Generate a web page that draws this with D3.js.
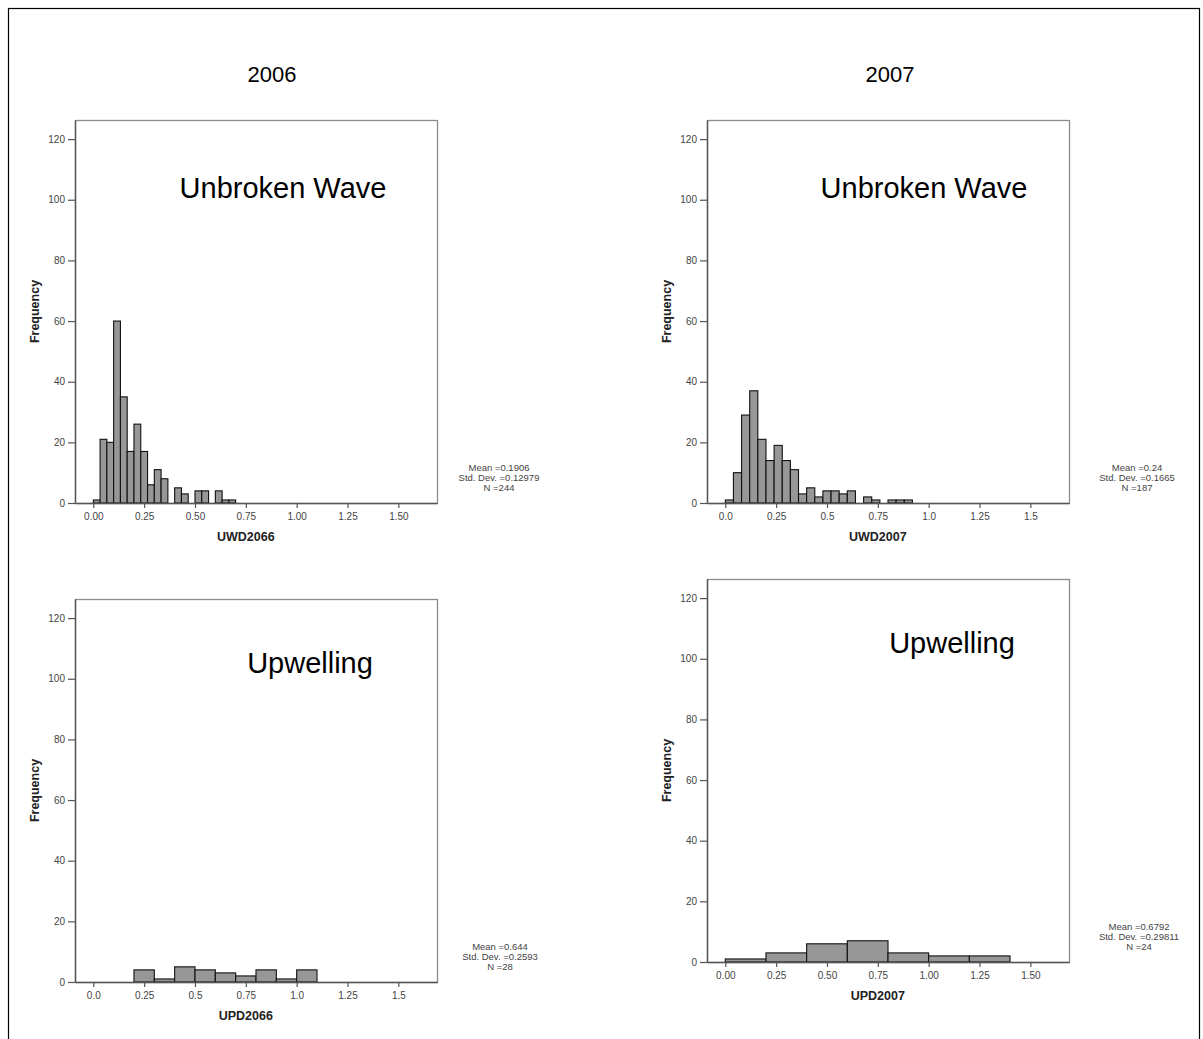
<!DOCTYPE html>
<html>
<head>
<meta charset="utf-8">
<script src="https://cdn.jsdelivr.net/npm/d3@7"></script>
<style>
  html, body { margin: 0; padding: 0; background: #fff; }
  svg { display: block; }
  text { font-family: Arial, "Liberation Sans", sans-serif; }
</style>
</head>
<body>
<svg id="chart" width="1203" height="1039"></svg>
<script>
// ---------------- data ----------------
const yearTitles = ["2006", "2007"];
const panelLabels = ["Unbroken Wave", "Unbroken Wave", "Upwelling", "Upwelling"];
const axisTitles = ["UWD2066", "UWD2007", "UPD2066", "UPD2007"];

// histogram counts (bins start at 0)
const uwd2006Counts = [1, 21, 20, 60, 35, 17, 26, 17, 6, 11, 8, 0, 5, 3, 0, 4, 4, 0, 4, 1, 1];
const uwd2007Counts = [1, 10, 29, 37, 21, 14, 19, 14, 11, 3, 5, 2, 4, 4, 3, 4, 0, 2, 1, 0, 1, 1, 1];
const upd2006Counts = [0, 0, 4, 1, 5, 4, 3, 2, 4, 1, 4];
const upd2007Counts = [1, 3, 6, 7, 3, 2, 2];
const binWidths = [1 / 30, 0.04, 0.1, 0.2];

const xTickValues = [0, 0.25, 0.5, 0.75, 1.0, 1.25, 1.5];
const xTickLabelsLong = ["0.00", "0.25", "0.50", "0.75", "1.00", "1.25", "1.50"];
const xTickLabelsShort = ["0.0", "0.25", "0.5", "0.75", "1.0", "1.25", "1.5"];
const yTickValues = [0, 20, 40, 60, 80, 100, 120];

const statMeans = ["Mean =0.1906", "Mean =0.24", "Mean =0.644", "Mean =0.6792"];
const statSDs = ["Std. Dev. =0.12979", "Std. Dev. =0.1665", "Std. Dev. =0.2593", "Std. Dev. =0.29811"];
const statNs = ["N =244", "N =187", "N =28", "N =24"];

// ---------------- layout ----------------
const svg = d3.select("#chart");
const W = 362, H = 383;
const panelPos = [
  { x: 75, y: 120, labelX: 283, labelY: 198, statX: 499 },
  { x: 707, y: 120, labelX: 924, labelY: 198, statX: 1137 },
  { x: 75, y: 599, labelX: 310, labelY: 673, statX: 500 },
  { x: 707, y: 579, labelX: 952, labelY: 653, statX: 1139 }
];
const countsAll = [uwd2006Counts, uwd2007Counts, upd2006Counts, upd2007Counts];
const tickLabelSets = [xTickLabelsLong, xTickLabelsShort, xTickLabelsShort, xTickLabelsLong];

// outer border
svg.append("rect")
  .attr("x", 8.5).attr("y", 8.5).attr("width", 1191).attr("height", 1040)
  .attr("fill", "none").attr("stroke", "#000").attr("stroke-width", 1.2);

// year titles
svg.append("text").attr("x", 272).attr("y", 82).attr("text-anchor", "middle")
  .attr("font-size", 22).text(yearTitles[0]);
svg.append("text").attr("x", 890).attr("y", 82).attr("text-anchor", "middle")
  .attr("font-size", 22).text(yearTitles[1]);

countsAll.forEach((counts, i) => {
  const p = panelPos[i];
  const g = svg.append("g").attr("transform", `translate(${p.x},${p.y})`);
  const x = d3.scaleLinear().domain([-0.09, 1.69]).range([0, W]);
  const y = d3.scaleLinear().domain([0, 126.3]).range([H, 0]);
  const bw = binWidths[i];

  // frame
  g.append("rect").attr("x", 0.5).attr("y", 0.5).attr("width", W).attr("height", H)
    .attr("fill", "#fff").attr("stroke", "#8c8c8c").attr("stroke-width", 1.3);

  // bars
  g.selectAll("rect.bar").data(counts.map((c, k) => ({ c, k })).filter(d => d.c > 0))
    .enter().append("rect").attr("class", "bar")
    .attr("x", d => x(d.k * bw))
    .attr("width", d => x((d.k + 1) * bw) - x(d.k * bw))
    .attr("y", d => y(d.c))
    .attr("height", d => y(0) - y(d.c))
    .attr("fill", "#979797").attr("stroke", "#111").attr("stroke-width", 1.1);

  // y axis
  const yAxis = d3.axisLeft(y).tickValues(yTickValues).tickSize(7).tickPadding(3).tickSizeOuter(0)
    .tickFormat(d => String(d));
  const ya = g.append("g").call(yAxis);
  ya.select(".domain").attr("stroke", "#555").attr("stroke-width", 1.4);
  ya.selectAll(".tick line").attr("stroke", "#555").attr("stroke-width", 1.2);
  ya.selectAll(".tick text").attr("font-size", 10).attr("fill", "#444")
    .attr("font-family", "Arial, 'Liberation Sans', sans-serif");

  // x axis
  const labels = tickLabelSets[i];
  const xAxis = d3.axisBottom(x).tickValues(xTickValues).tickSize(5).tickPadding(5).tickSizeOuter(0)
    .tickFormat((d, k) => labels[k]);
  const xa = g.append("g").attr("transform", `translate(0,${H})`).call(xAxis);
  xa.select(".domain").attr("stroke", "#555").attr("stroke-width", 1.4);
  xa.selectAll(".tick line").attr("stroke", "#555").attr("stroke-width", 1.2);
  xa.selectAll(".tick text").attr("font-size", 10).attr("fill", "#444")
    .attr("font-family", "Arial, 'Liberation Sans', sans-serif");

  // axis titles
  g.append("text").attr("x", x(0.75)).attr("y", H + 38).attr("text-anchor", "middle")
    .attr("font-size", 12.5).attr("font-weight", "bold").attr("fill", "#222").text(axisTitles[i]);
  g.append("text").attr("transform", `translate(-36,${H / 2}) rotate(-90)`)
    .attr("text-anchor", "middle").attr("font-size", 12.5).attr("font-weight", "bold")
    .attr("fill", "#222").text("Frequency");

  // panel label
  svg.append("text").attr("x", p.labelX).attr("y", p.labelY).attr("text-anchor", "middle")
    .attr("font-size", 29).attr("fill", "#000").text(panelLabels[i]);

  // stats
  const axisY = p.y + H;
  const st = svg.append("text").attr("text-anchor", "middle").attr("font-size", 9.5).attr("fill", "#444");
  [statMeans[i], statSDs[i], statNs[i]].forEach((t, k) => {
    st.append("tspan").attr("x", p.statX).attr("y", axisY - 32 + k * 9.8).text(t);
  });
});
</script>
</body>
</html>
